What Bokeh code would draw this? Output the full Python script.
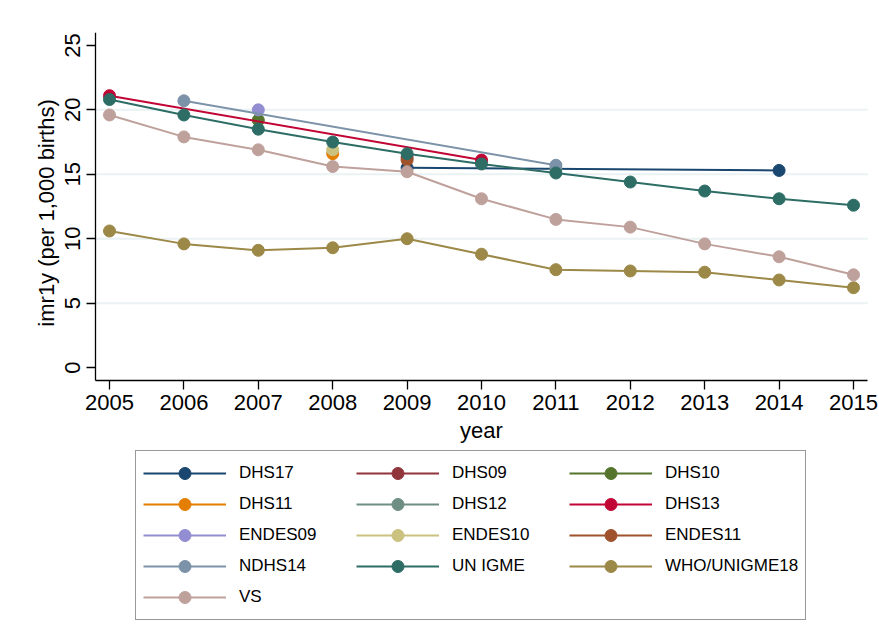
import math

from bokeh.plotting import figure
from bokeh.embed import file_html
from bokeh.resources import INLINE
from bokeh.models import Legend, LegendItem, FixedTicker, Range1d, Label

# data (imr1y per 1,000 births by year)
years = [2005, 2006, 2007, 2008, 2009, 2010, 2011, 2012, 2013, 2014, 2015]

dhs17_year = [2009, 2014]
dhs17_imr = [15.5, 15.3]
dhs09_year = [2009]
dhs09_imr = [16.3]
dhs10_year = [2007]
dhs10_imr = [19.2]
dhs11_year = [2008]
dhs11_imr = [16.6]
dhs12_year = [2011]
dhs12_imr = [15.4]
dhs13_year = [2005, 2010]
dhs13_imr = [21.1, 16.1]
endes09_year = [2007]
endes09_imr = [20.0]
endes10_year = [2008]
endes10_imr = [16.9]
endes11_year = [2009]
endes11_imr = [16.1]
ndhs14_year = [2006, 2011]
ndhs14_imr = [20.7, 15.7]
unigme_imr = [20.8, 19.6, 18.5, 17.5, 16.6, 15.8, 15.1, 14.4, 13.7, 13.1, 12.6]
who_imr = [10.6, 9.6, 9.1, 9.3, 10.0, 8.8, 7.6, 7.5, 7.4, 6.8, 6.2]
vs_imr = [19.6, 17.9, 16.9, 15.6, 15.2, 13.1, 11.5, 10.9, 9.6, 8.6, 7.2]

y_ticks = [0, 5, 10, 15, 20, 25]
grid_ticks = [5, 10, 15, 20]

series = [
    ('DHS17', dhs17_year, dhs17_imr, '#1a476f'),
    ('DHS09', dhs09_year, dhs09_imr, '#90353b'),
    ('DHS10', dhs10_year, dhs10_imr, '#55752f'),
    ('DHS11', dhs11_year, dhs11_imr, '#e37e00'),
    ('DHS12', dhs12_year, dhs12_imr, '#6e8e84'),
    ('DHS13', dhs13_year, dhs13_imr, '#c10534'),
    ('ENDES09', endes09_year, endes09_imr, '#938dd2'),
    ('ENDES10', endes10_year, endes10_imr, '#cac27e'),
    ('ENDES11', endes11_year, endes11_imr, '#a0522d'),
    ('NDHS14', ndhs14_year, ndhs14_imr, '#7b92a8'),
    ('UN IGME', years, unigme_imr, '#2d6d66'),
    ('WHO/UNIGME18', years, who_imr, '#9c8847'),
    ('VS', years, vs_imr, '#bfa19c'),
]

font = 'Liberation Sans'
tick_font_size = '22px'

# plot region (where the axes sit) inside a larger frame, so that tick labels,
# axis titles and the legend below are not clipped
x_lo, x_hi = 2004.81, 2015.19
y_lo, y_hi = -1, 26
p = figure(frame_width=862, frame_height=596, output_backend='svg', toolbar_location=None,
           x_range=Range1d(2003.75, 2015.336), y_range=Range1d(-20.24, y_hi),
           min_border_left=16, min_border_right=0, min_border_top=32, min_border_bottom=0)
p.outline_line_color = None
p.background_fill_color = 'white'
p.border_fill_color = 'white'

# horizontal grid lines, limited to the plot region
p.xgrid.visible = False
p.ygrid.visible = False
p.segment(x0=x_lo, x1=x_hi, y0=grid_ticks, y1=grid_ticks, line_color='#eaf2f3', line_width=2)

items = []
for name, xs, ys, color in series:
    ln = p.line(xs, ys, line_color=color, line_width=2)
    sc = p.scatter(xs, ys, size=12, fill_color=color, line_color=color)
    items.append(LegendItem(label=name, renderers=[ln, sc]))

# axes pinned to the plot region
p.xaxis.fixed_location = y_lo
p.yaxis.fixed_location = x_lo
p.xaxis.bounds = (x_lo, x_hi)
p.yaxis.bounds = (y_lo, y_hi)
p.xaxis.ticker = FixedTicker(ticks=years)
p.yaxis.ticker = FixedTicker(ticks=y_ticks)
for ax in (p.xaxis, p.yaxis):
    ax.axis_line_color = 'black'
    ax.axis_line_width = 1.3
    ax.major_tick_line_color = 'black'
    ax.major_tick_line_width = 1.3
    ax.major_tick_in = 0
    ax.major_tick_out = 9
    ax.minor_tick_line_color = None
    ax.major_label_text_font = font
    ax.major_label_text_font_size = tick_font_size
    ax.major_label_text_color = 'black'
p.xaxis.major_label_standoff = 5
p.yaxis.major_label_orientation = 'vertical'
p.yaxis.major_label_standoff = 6

x_title = Label(x=2010, y=-4.9, text='year', text_align='center', text_baseline='middle',
                text_font=font, text_font_size=tick_font_size, text_color='black')
y_title = Label(x=2004.15, y=12.0, text='imr1y (per 1,000 births)', angle=math.pi / 2,
                text_align='center', text_baseline='middle',
                text_font=font, text_font_size=tick_font_size, text_color='black')
p.add_layout(x_title)
p.add_layout(y_title)

legend = Legend(items=items, ncols=3, orientation='horizontal', location=(119, 8),
                glyph_width=83, glyph_height=30, label_height=20, label_width=116,
                label_standoff=13, spacing=1, padding=7, margin=0,
                label_text_font=font, label_text_font_size='17px', label_text_color='black',
                border_line_color='#333333', border_line_width=1.5,
                background_fill_color='white', background_fill_alpha=1)
p.add_layout(legend)

open('out.html', 'w').write(file_html(p, INLINE))
